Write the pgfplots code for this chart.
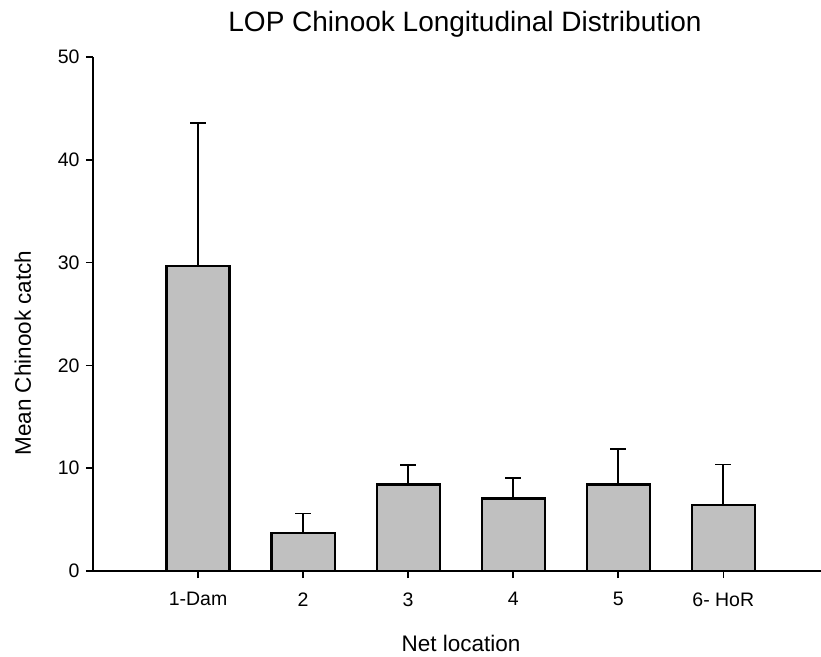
\documentclass[border=0pt]{standalone}
\usepackage{pgfplots}
\pgfplotsset{compat=1.18}
\usepackage{fontspec}
\setmainfont{Liberation Sans}

\definecolor{barfill}{RGB}{192,192,192}

\begin{document}
\begin{tikzpicture}[x=1pt,y=1pt]
  \path[use as bounding box] (0,0) rectangle (821,656);
  \begin{axis}[
      at={(93pt,85pt)}, anchor=south west,
      scale only axis,
      width=728pt, height=514pt,
      xmin=0, xmax=6.93,
      ymin=0, ymax=50,
      axis x line*=bottom, axis y line*=left,
      axis line style={-, line width=1.8pt},
      tick align=outside,
      major tick length=7pt,
      tick style={black, line width=1.6pt},
      xtick={1,2,3,4,5,6},
      xticklabels={1-Dam, 2, 3, 4, 5, 6- HoR},
      ytick={0,10,20,30,40,50},
      minor tick num=0,
      ticklabel style={font=\fontsize{19.5}{23}\selectfont},
      /pgf/number format/assume math mode=true,
      xticklabel style={yshift=-11pt},
      yticklabel style={xshift=-3pt},
    ]
    \addplot[ybar, bar width=0.6, fill=barfill, draw=black, line width=2.2pt,
      error bars/.cd, y dir=plus, y explicit,
      error mark=-, error mark options={black, rotate=90, mark size=8pt, line width=1.8pt},
      error bar style={black, line width=1.8pt}]
      table[x=x, y=y, y error=e] {
        x y e
        1 29.70 13.90
        2 3.73 1.87
        3 8.42 1.88
        4 7.06 2.01
        5 8.42 3.48
        6 6.40 3.96
      };
  \end{axis}
  \node[font=\fontsize{28}{33}\selectfont, anchor=base] at (465,624) {LOP Chinook Longitudinal Distribution};
  \node[font=\fontsize{22.5}{27}\selectfont, anchor=base] at (461,5) {Net location};
  \node[font=\fontsize{22.5}{27}\selectfont, rotate=90, anchor=base] at (31,303) {Mean Chinook catch};
\end{tikzpicture}
\end{document}
